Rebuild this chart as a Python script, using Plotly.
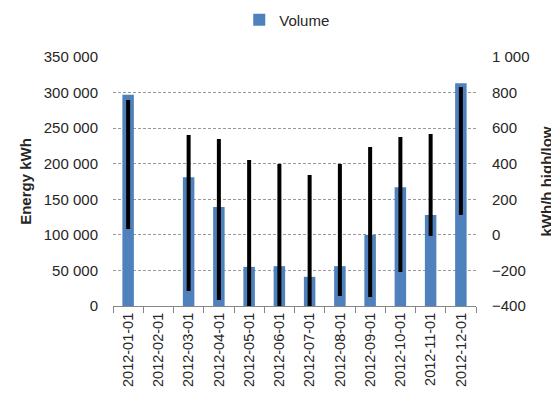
import plotly.graph_objects as go

months = ["2012-01-01", "2012-02-01", "2012-03-01", "2012-04-01", "2012-05-01", "2012-06-01",
          "2012-07-01", "2012-08-01", "2012-09-01", "2012-10-01", "2012-11-01", "2012-12-01"]
volume = [297000, 0, 181000, 139000, 55000, 56000, 41000, 56000, 100000, 167000, 128000, 313000]
high = [758, None, 561, 539, 421, 398, 336, 398, 494, 550, 567, 831]
low = [33, None, -316, -366, -400, -400, -400, -344, -350, -209, -6, 112]

# build vertical high/low segments
seg_x, seg_y = [], []
for m, h, l in zip(months, high, low):
    if h is None:
        continue
    seg_x += [m, m, None]
    seg_y += [l, h, None]

FONT = "Liberation Sans"
fig = go.Figure()
fig.add_trace(go.Bar(x=months, y=volume, name="Volume", marker_color="#4F81BD",
                     marker_line_width=0))
fig.add_trace(go.Scatter(x=seg_x, y=seg_y, yaxis="y2", mode="lines",
                         line=dict(color="black", width=4), showlegend=False,
                         hoverinfo="skip"))

fig.update_layout(
    width=551, height=388,
    margin=dict(l=105, r=83, t=49, b=90, autoexpand=False),
    plot_bgcolor="white", paper_bgcolor="white",
    separators=". ",
    bargap=0.62,
    font=dict(family=FONT, size=15, color="#262626"),
    showlegend=True,
    legend=dict(orientation="h", x=0.48, xanchor="center", y=1.149, yanchor="middle",
                font=dict(size=15), itemwidth=30),
    xaxis=dict(type="category", tickangle=-90, tickson="boundaries",
               ticks="outside", ticklen=6, tickcolor="#868686",
               showline=True, linecolor="#868686", linewidth=1,
               showgrid=False, tickfont=dict(size=14.5), automargin=False),
    yaxis=dict(range=[0, 350000], dtick=50000, tickformat=",d", automargin=False,
               showgrid=True, gridcolor="#9a9a9a", griddash="3px,2px", gridwidth=1,
               zeroline=False, showline=False, ticks="", ticklabelstandoff=14,
               title=dict(text="<b>Energy kWh</b>", font=dict(size=15), standoff=8)),
    yaxis2=dict(range=[-400, 1000], dtick=200, tickformat=",d", overlaying="y",
                automargin=False, ticklabelstandoff=15,
                side="right", showgrid=False, zeroline=False, showline=False,
                title=dict(text="<b>kWh/h high/low</b>", font=dict(size=15), standoff=12)),
)

fig.write_html("out.html")
